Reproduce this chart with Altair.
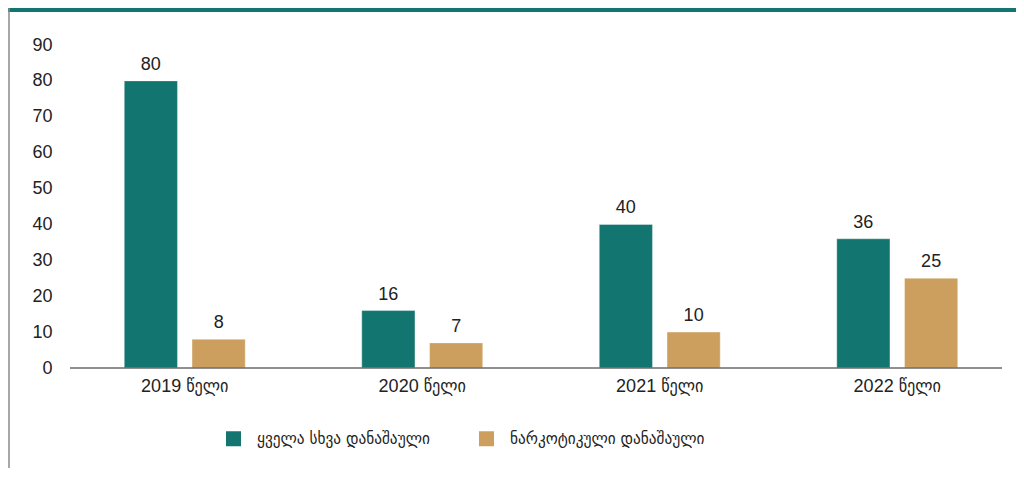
import altair as alt
import pandas as pd

years = ["2019 წელი", "2020 წელი", "2021 წელი", "2022 წელი"]
series = ["ყველა სხვა დანაშაული", "ნარკოტიკული დანაშაული"]
other_crimes = [80, 16, 40, 36]
drug_crimes = [8, 7, 10, 25]
colors = ["#137570", "#CC9F5E"]
y_ticks = [0, 10, 20, 30, 40, 50, 60, 70, 80, 90]

rows = []
for i, yr in enumerate(years):
    rows.append({"year": yr, "series": series[0], "value": other_crimes[i]})
    rows.append({"year": yr, "series": series[1], "value": drug_crimes[i]})
df = pd.DataFrame(rows)
deco = pd.DataFrame({"d": [0]})

FONT = "Liberation Sans, Arial, DejaVu Sans Condensed, DejaVu Sans, sans-serif"
TXT = "#222222"
FS = 18

x_axis = alt.Axis(title=None, labelAngle=0, domain=False, ticks=False,
                  labelPadding=9, labelFontSize=FS, labelColor=TXT, labelFont=FONT,
                  labelOverlap=False)
y_axis = alt.Axis(title=None, values=y_ticks, tickCount=10, grid=False, domain=False,
                  ticks=False, labelPadding=14, labelFontSize=FS, labelColor=TXT,
                  labelFont=FONT, labelOverlap=False, labelFlush=False)

x_enc = alt.X("year:N", sort=years,
              scale=alt.Scale(paddingInner=0, paddingOuter=0), axis=x_axis)
xo_enc = alt.XOffset("series:N", sort=series,
                     scale=alt.Scale(paddingInner=0.215, paddingOuter=0.86))
y_enc = alt.Y("value:Q", scale=alt.Scale(domain=[0, 90], nice=False), axis=y_axis)

bars = alt.Chart(df).mark_bar(stroke="#ffffff", strokeOpacity=0.35, strokeWidth=1).encode(
    x=x_enc,
    xOffset=xo_enc,
    y=y_enc,
    color=alt.Color(
        "series:N", sort=series,
        scale=alt.Scale(domain=series, range=colors),
        legend=alt.Legend(
            title=None, orient="none", legendX=159, legendY=385,
            direction="horizontal", symbolType="square", symbolSize=225,
            symbolStrokeWidth=0, labelFontSize=17,
            labelFont="DejaVu Sans Condensed, DejaVu Sans, sans-serif",
            labelColor=TXT, labelOffset=15, columnPadding=48, labelLimit=400,
        ),
    ),
)

labels = alt.Chart(df).mark_text(
    baseline="bottom", dy=-7, fontSize=FS, font=FONT, color=TXT
).encode(
    x=alt.X("year:N", sort=years, axis=x_axis),
    xOffset=alt.XOffset("series:N", sort=series),
    y=alt.Y("value:Q", axis=y_axis),
    text=alt.Text("value:Q"),
)

baseline = alt.Chart(deco).mark_rule(color="#6b6b6b", strokeWidth=1.5).encode(
    x=alt.value(4), x2=alt.value(936), y=alt.value(323)
)

top_band = alt.Chart(deco).mark_rect(color="#137570").encode(
    x=alt.value(-58), x2=alt.value(950), y=alt.value(-37), y2=alt.value(-33)
)

left_line = alt.Chart(deco).mark_rule(color="#8a8a8a", strokeWidth=1.5).encode(
    x=alt.value(-57), y=alt.value(-37), y2=alt.value(425)
)

chart = alt.layer(bars, labels, baseline, top_band, left_line).properties(
    width=950, height=323,
    background="#ffffff",
    autosize=alt.AutoSizeParams(type="none"),
    padding={"left": 58, "top": 37, "right": 0, "bottom": 100},
).configure_view(strokeOpacity=0, strokeWidth=0).configure_axisY(labelOverlap=False)

chart.save("out.html", embed_options={"renderer": "svg", "actions": False})
